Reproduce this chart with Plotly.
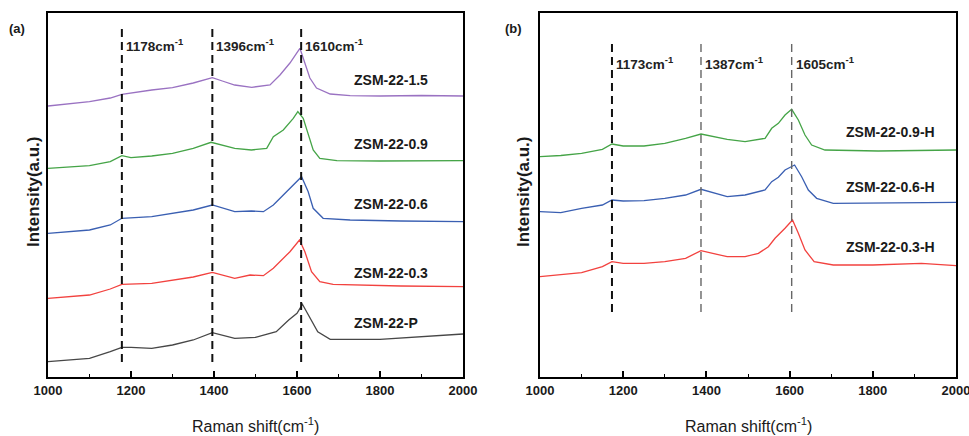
import plotly.graph_objects as go

# ---------------- Panel (a): as-synthesised samples ----------------
a_15_x = [1000, 1050, 1100, 1150, 1178, 1250, 1300, 1350, 1396, 1420, 1450, 1491, 1535, 1559, 1583, 1607, 1619, 1631, 1647, 1680, 1728, 1800, 1900, 2000]
a_15_y = [271, 273, 275.3, 279, 282.7, 287, 289.3, 294, 299.3, 296, 292, 289.7, 292, 302, 314, 328.7, 314, 299, 289, 283, 281.3, 281, 281.5, 281]

a_09_x = [1000, 1050, 1100, 1150, 1178, 1200, 1250, 1300, 1350, 1393, 1450, 1490, 1527, 1543, 1567, 1591, 1602, 1615, 1627, 1639, 1655, 1696, 1800, 2000]
a_09_y = [208.7, 210, 211.3, 215.3, 221.3, 219.3, 221, 223.7, 228.7, 234.7, 228.7, 227, 228.7, 240.3, 247, 258.7, 265.3, 258.7, 242, 227, 218.7, 216.3, 216, 216.3]

a_06_x = [1000, 1050, 1100, 1150, 1178, 1250, 1300, 1350, 1396, 1450, 1490, 1519, 1543, 1559, 1583, 1611, 1627, 1639, 1663, 1728, 1850, 2000]
a_06_y = [143.7, 145, 147, 152, 158.7, 160.3, 163.7, 167, 172, 165.3, 166, 165.3, 172, 178.7, 188.7, 200.3, 185.3, 168.7, 158.7, 157, 156, 155.3]

a_03_x = [1000, 1050, 1100, 1150, 1178, 1250, 1300, 1350, 1396, 1450, 1487, 1519, 1543, 1559, 1583, 1606, 1619, 1635, 1655, 1687, 1850, 2000]
a_03_y = [78.7, 80, 82, 88, 92.7, 93.7, 97, 100, 104.7, 98.7, 102, 101.3, 108.7, 115.3, 125.3, 137, 125.3, 105.3, 95.3, 92.7, 91, 90.3]

a_p_x = [1000, 1050, 1100, 1150, 1178, 1200, 1250, 1300, 1350, 1396, 1450, 1500, 1550, 1580, 1600, 1613, 1630, 1650, 1680, 1800, 2000]
a_p_y = [15.3, 17, 18.7, 25.3, 29.7, 29.7, 28.7, 32, 37, 44.3, 38.7, 39.7, 45.3, 57, 63.7, 72.7, 60.3, 45.3, 37.7, 37.7, 43]

# ---------------- Panel (b): H-treated samples ----------------
b_09_x = [1000, 1050, 1100, 1150, 1173, 1200, 1250, 1300, 1350, 1387, 1450, 1493, 1541, 1557, 1573, 1589, 1605, 1621, 1637, 1653, 1685, 1813, 2000]
b_09_y = [220.3, 221.5, 223.7, 227.7, 233, 231, 231, 233.7, 238.7, 243, 237.7, 235.3, 238.7, 248.7, 253.7, 262, 267.7, 257, 242, 232, 227, 226, 227]

b_06_x = [1000, 1050, 1100, 1150, 1173, 1200, 1250, 1300, 1350, 1387, 1450, 1493, 1541, 1557, 1573, 1589, 1612, 1629, 1645, 1665, 1705, 1850, 2000]
b_06_y = [165.3, 164.3, 168.7, 172, 177, 176, 176.3, 178.7, 182, 187.7, 180.3, 182, 187, 195.3, 199.7, 207, 212, 200.3, 187, 178.7, 173.7, 174, 174.7]

b_03_x = [1000, 1050, 1100, 1150, 1173, 1200, 1250, 1300, 1350, 1387, 1450, 1493, 1525, 1549, 1565, 1589, 1607, 1621, 1637, 1659, 1705, 1800, 1917, 2000]
b_03_y = [100.3, 102, 104.3, 110.3, 115.3, 113.7, 113.7, 115.3, 118.7, 126.3, 120.3, 120.3, 123.7, 130.3, 138.7, 148.7, 157, 143.7, 127, 115.3, 112, 112, 113.7, 111.3]

# Series definitions: (x, y, colour, label, label height)
series_a = [
    (a_15_x, a_15_y, "#9a72c2", "ZSM-22-1.5", 297),
    (a_09_x, a_09_y, "#45a447", "ZSM-22-0.9", 233),
    (a_06_x, a_06_y, "#3a5fb2", "ZSM-22-0.6", 173),
    (a_03_x, a_03_y, "#f2423f", "ZSM-22-0.3", 104),
    (a_p_x, a_p_y, "#474747", "ZSM-22-P", 54),
]
series_b = [
    (b_09_x, b_09_y, "#45a447", "ZSM-22-0.9-H", 245),
    (b_06_x, b_06_y, "#3a5fb2", "ZSM-22-0.6-H", 190),
    (b_03_x, b_03_y, "#f2423f", "ZSM-22-0.3-H", 130),
]

peaks_a = [1178, 1396, 1610]
peaks_b = [1173, 1387, 1605]

x_ticks = [1000, 1200, 1400, 1600, 1800, 2000]

FONT = "Liberation Sans"
INK = "#1a1a1a"

fig = go.Figure()

for xs, ys, col, name, _ in series_a:
    fig.add_trace(go.Scatter(x=xs, y=ys, mode="lines", line=dict(color=col, width=1.3),
                             name=name, xaxis="x", yaxis="y", showlegend=False))
for xs, ys, col, name, _ in series_b:
    fig.add_trace(go.Scatter(x=xs, y=ys, mode="lines", line=dict(color=col, width=1.3),
                             name=name, xaxis="x2", yaxis="y2", showlegend=False))

shapes = []
annotations = []

peak_font = dict(family=FONT, size=13.5, color="#222222", weight="bold")

# dashed peak markers and their wavenumber labels
for p in peaks_a:
    shapes.append(dict(type="line", xref="x", yref="y", x0=p, x1=p, y0=15, y1=349,
                       line=dict(color="#111111", width=2, dash="8px,5px")))
    annotations.append(dict(xref="x", yref="y", x=p, y=332, text=f"{p}cm<sup>-1</sup>",
                            showarrow=False, xanchor="left", xshift=2, font=peak_font))
for i, p in enumerate(peaks_b):
    col = "#111111" if i == 0 else "#666666"
    w = 2 if i == 0 else 1.4
    shapes.append(dict(type="line", xref="x2", yref="y2", x0=p, x1=p, y0=65, y1=334,
                       line=dict(color=col, width=w, dash="8px,5px")))
    annotations.append(dict(xref="x2", yref="y2", x=p, y=314, text=f"{p}cm<sup>-1</sup>",
                            showarrow=False, xanchor="left", xshift=2, font=peak_font))

# sample names
name_font = dict(family=FONT, size=14, color=INK, weight="bold")
for _, _, _, name, ly in series_a:
    annotations.append(dict(xref="x", yref="y", x=1732, y=ly, text=name, showarrow=False,
                            xanchor="left", font=name_font))
for _, _, _, name, ly in series_b:
    annotations.append(dict(xref="x2", yref="y2", x=1731, y=ly, text=name, showarrow=False,
                            xanchor="left", font=name_font))

# axis titles and panel tags
for cx, tag, tx in [(255.5, "(a)", 17), (748, "(b)", 513)]:
    annotations.append(dict(xref="paper", yref="paper", x=cx / 969, y=(436 - 425) / 436,
                            text="Raman shift(cm<sup>-1</sup>)", showarrow=False,
                            xanchor="center", yanchor="middle",
                            font=dict(family=FONT, size=16, color=INK)))
    annotations.append(dict(xref="paper", yref="paper", x=tx / 969, y=(436 - 29) / 436,
                            text=tag, showarrow=False, xanchor="center", yanchor="middle",
                            font=dict(family=FONT, size=13, color=INK, weight="bold")))
for yx in [33, 523]:
    annotations.append(dict(xref="paper", yref="paper", x=yx / 969, y=(436 - 192) / 436,
                            text="Intensity(a.u.)", showarrow=False, textangle=-90,
                            xanchor="center", yanchor="middle",
                            font=dict(family=FONT, size=17, color=INK, weight="bold")))

xaxis_style = dict(range=[1000, 2000], tickvals=x_ticks, ticktext=[str(t) for t in x_ticks],
                   ticks="inside", ticklen=6, tickwidth=1.5, tickcolor="black",
                   minor=dict(tickvals=[1100, 1300, 1500, 1700, 1900], ticks="inside",
                              ticklen=3, tickwidth=1.2, tickcolor="black"),
                   showline=True, linecolor="black", linewidth=1.8, mirror=True,
                   showgrid=False, zeroline=False, automargin=False,
                   ticklabeloverflow="allow",
                   tickfont=dict(family=FONT, size=13, color=INK, weight="bold"))
yaxis_style = dict(range=[0, 364], showticklabels=False, ticks="",
                   showline=True, linecolor="black", linewidth=1.8, mirror=True,
                   showgrid=False, zeroline=False, automargin=False)

y_dom = [59 / 436, 423 / 436]
fig.update_layout(
    width=969, height=436,
    margin=dict(l=0, r=0, t=0, b=0, autoexpand=False),
    paper_bgcolor="white", plot_bgcolor="white",
    xaxis=dict(domain=[48 / 969, 463 / 969], anchor="y", **xaxis_style),
    yaxis=dict(domain=y_dom, anchor="x", **yaxis_style),
    xaxis2=dict(domain=[540 / 969, 956 / 969], anchor="y2", **xaxis_style),
    yaxis2=dict(domain=y_dom, anchor="x2", **yaxis_style),
    shapes=shapes,
    annotations=annotations,
)

fig.write_html("out.html")
